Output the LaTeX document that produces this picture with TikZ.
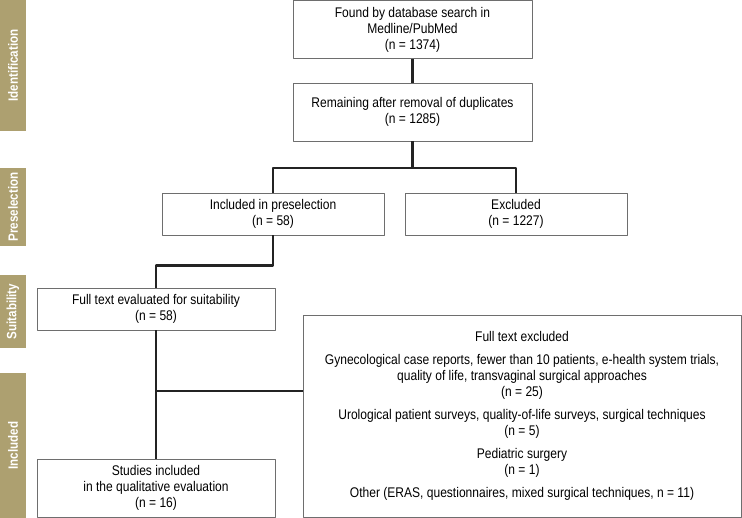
\documentclass[tikz,border=0pt]{standalone}
\usepackage{fontspec}
\setmainfont[FakeStretch=0.86]{Liberation Sans}
\definecolor{phasetan}{RGB}{173,160,112}
\definecolor{boxgrey}{RGB}{110,110,110}
\definecolor{linedark}{RGB}{35,35,35}
\begin{document}
\begin{tikzpicture}[x=1pt,y=-1pt,line join=round,font=\fontsize{14}{16}\selectfont,
	flowbox/.style={draw=boxgrey,line width=0.9pt,fill=white,align=center,inner sep=2pt,minimum width=239pt,minimum height=58pt},
	phase/.style={fill=phasetan,text=white,rotate=90,inner sep=0pt,font=\fontsize{13.5}{14}\selectfont\bfseries},
	flow/.style={draw=linedark,line width=2.4pt}]
	\useasboundingbox (0,0) rectangle (742,518);
	\node[phase,minimum width=131pt,minimum height=26pt] (idph) at (13,65.5) {Identification};
	\node[phase,minimum width=78pt,minimum height=26pt] (preph) at (13,207) {Preselection};
	\node[phase,minimum width=73pt,minimum height=26pt] (suitph) at (13,311.5) {Suitability};
	\node[phase,minimum width=145pt,minimum height=26pt] (inclph) at (13,445.5) {Included};
	\node[flowbox] (found) at (412.5,29.5) {Found by database search in\\Medline/PubMed\\(n = 1374)};
	\node[flowbox] (remain) at (412.5,112) {Remaining after removal of duplicates\\(n = 1285)};
	\node[flowbox,minimum width=222pt,minimum height=42pt] (presel) at (273,214) {Included in preselection\\(n = 58)};
	\node[flowbox,minimum width=222pt,minimum height=42pt] (excl) at (516,214) {Excluded\\(n = 1227)};
	\node[flowbox,minimum width=238pt,minimum height=42pt] (fulltext) at (156,309) {Full text evaluated for suitability\\(n = 58)};
	\node[flowbox,minimum width=238pt] (studies) at (156,488) {Studies included\\in the qualitative evaluation\\(n = 16)};
	\node[flowbox,minimum width=438pt,minimum height=202pt] (fullexcl) at (522,416) {Full text excluded\\[7pt]
		Gynecological case reports, fewer than 10 patients, e-health system trials,\\
		quality of life, transvaginal surgical approaches\\(n = 25)\\[7pt]
		Urological patient surveys, quality-of-life surveys, surgical techniques\\(n = 5)\\[7pt]
		Pediatric surgery\\(n = 1)\\[7pt]
		Other (ERAS, questionnaires, mixed surgical techniques, n = 11)};
	\coordinate (split) at (412.5,168);
	\coordinate (branch) at (156,391);
	\draw[flow] (found) -- (remain);
	\draw[flow] (remain) -- (split);
	\draw[flow] (presel.north) |- (split) -| (excl.north);
	\draw[flow] (presel.south) -- ++(0,30) -| (fulltext.north);
	\draw[flow] (fulltext) -- (studies);
	\draw[flow] (branch) -- (branch -| fullexcl.west);
\end{tikzpicture}
\end{document}
